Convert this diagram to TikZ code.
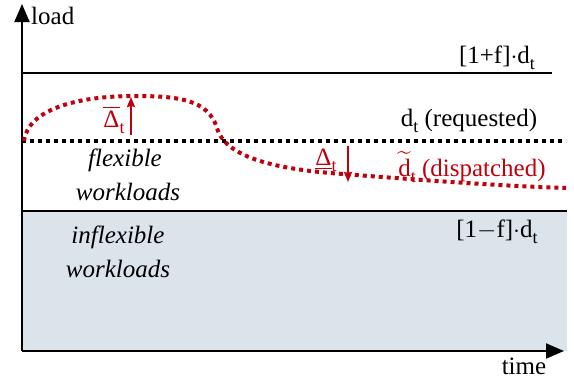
\documentclass[tikz,border=0pt]{standalone}
\usepackage{fontspec}
\setmainfont{Liberation Serif}
\usepackage{amsmath}
\definecolor{darkred}{rgb}{0.75,0,0.05}
\definecolor{lightgray}{rgb}{0.86,0.89,0.92}
\usetikzlibrary{arrows.meta}
\newcommand{\lowsub}[1]{\raisebox{-0.5ex}{\fontsize{18}{18}\selectfont #1}}

\begin{document}
\begin{tikzpicture}[x=1pt,y=-1pt,line cap=butt,line join=round,
	lbl/.style={inner sep=0pt,font=\fontsize{25}{29}\selectfont},
	dots/.style={line width=4pt,dash pattern=on 4pt off 4pt},
	axis/.style={line width=2pt,-{Triangle[length=18pt,width=15pt]}},
	delta/.style={darkred,line width=2pt,-{Stealth[length=10pt,width=8pt,inset=1pt]}}]
	\useasboundingbox (0,0) rectangle (574,383);
	% inflexible part
	\fill [lightgray] (22,211) rectangle (567,351);
	\draw [line width=1.5pt] (22,73) -- (552,73);
	\draw [line width=1.5pt] (22,211) -- (567,211);
	\draw [dots] (22,141) -- (566,141);
	% axes
	\coordinate (o) at (22,351);
	\coordinate (ytop) at (22,4);
	\coordinate (xend) at (564,351);
	\draw [axis] (o) -- (ytop);
	\draw [axis] (o) -- (xend);
	\node [lbl,anchor=west] (load) at (31,16) {load};
	\node [lbl] (time) at (524,366) {time};
	% labels
	\node [lbl] (upper) at (497,58) {[1+f]$\cdot$d\lowsub{t}};
	\node [lbl] (req) at (469,121) {d\lowsub{t} (requested)};
	\node [lbl] (lower) at (497,232) {[1$-$f]$\cdot$d\lowsub{t}};
	\node [lbl,font=\fontsize{25}{29}\selectfont\itshape] (flex1) at (125,160) {flexible};
	\node [lbl,font=\fontsize{25}{29}\selectfont\itshape] (flex2) at (128,192) {workloads};
	\node [lbl,font=\fontsize{25}{29}\selectfont\itshape] (inflex1) at (118,237) {inflexible};
	\node [lbl,font=\fontsize{25}{29}\selectfont\itshape] (inflex2) at (118,269) {workloads};
	% dispatched curve
	\draw [dots,darkred] (24,141) .. controls (28,110) and (75,96) .. (135,96)
		.. controls (180,96) and (208,100) .. (217,128)
		.. controls (226,160) and (285,169) .. (330,173)
		.. controls (420,180) and (500,186) .. (566,188);
	\node [lbl,darkred] (dispatched) at (472,167) {$\widetilde{\hbox{d}}$\lowsub{t} (dispatched)};
	% deviations
	\coordinate (up0) at (131,135);
	\coordinate (up1) at (131,97);
	\draw [delta] (up0) -- (up1);
	\node [lbl,darkred] (dup) at (114,120) {$\overline{\hbox{Δ}}$\lowsub{t}};
	\coordinate (dn0) at (348,146);
	\coordinate (dn1) at (348,182);
	\draw [delta] (dn0) -- (dn1);
	\node [lbl,darkred] (ddown) at (326,160) {\underline{Δ}\lowsub{t}};
\end{tikzpicture}
\end{document}
